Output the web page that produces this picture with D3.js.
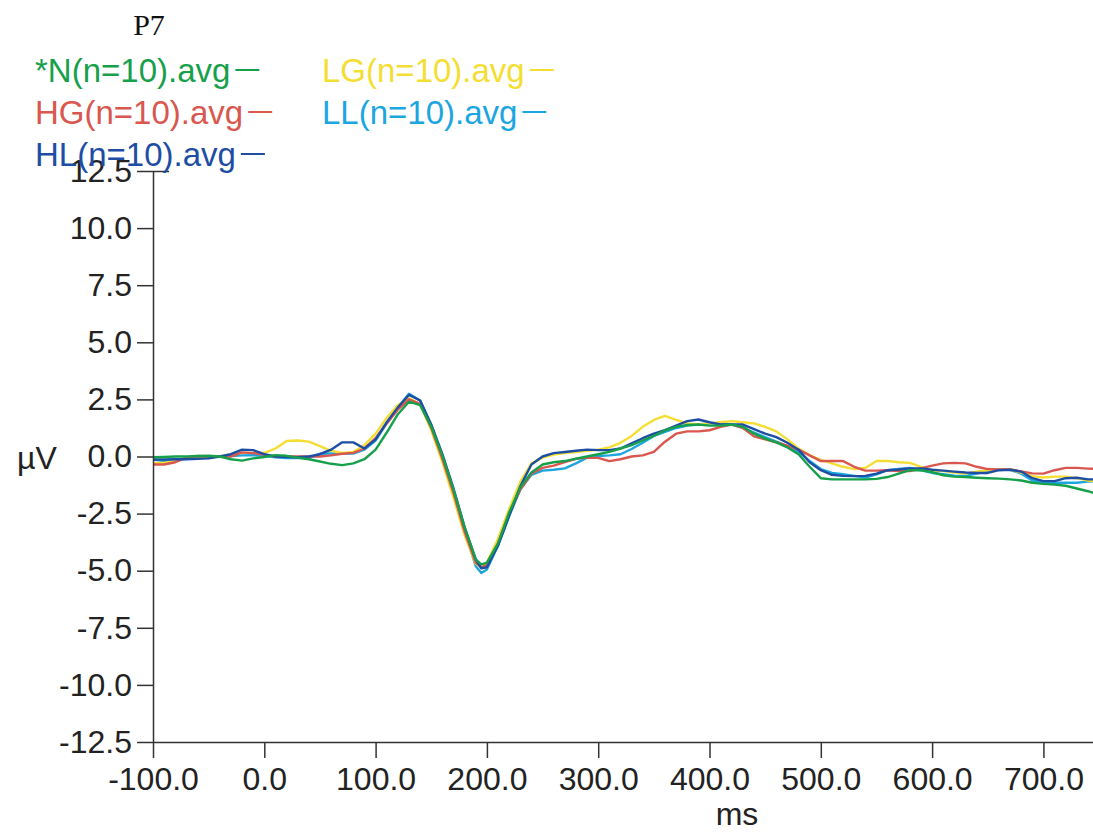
<!DOCTYPE html>
<html>
<head>
<meta charset="utf-8">
<script src="https://cdn.jsdelivr.net/npm/d3@7"></script>
<style>
    body { margin: 0; background: #fff; }
    svg { display: block; }
</style>
</head>
<body>
<div id="chart"></div>
<script>
// Time points (ms)
const times = [
    -100, -90, -80, -70, -60, -50, -40, -30, -20, -10,
    0, 10, 20, 30, 40, 50, 60, 70, 80, 90,
    100, 110, 120, 130, 140, 150, 160, 170, 180, 190,
    195, 200, 210, 220, 230, 240, 250, 260, 270, 280,
    290, 300, 310, 320, 330, 340, 350, 360, 370, 380,
    390, 400, 410, 420, 430, 440, 450, 460, 470, 480,
    490, 500, 510, 520, 530, 540, 550, 560, 570, 580,
    590, 600, 610, 620, 630, 640, 650, 660, 670, 680,
    690, 700, 710, 720, 730, 740, 745
];

// Series values (µV)
const valuesN = [
    -0.03, -0.02, 0.0, 0.0, 0.02, 0.03, 0.0, -0.12, -0.18, -0.08,
    -0.02, 0.06, 0.03, -0.05, -0.12, -0.22, -0.32, -0.38, -0.3, -0.12,
    0.3, 1.05, 1.85, 2.4, 2.25, 1.3, 0.05, -1.45, -3.1, -4.5,
    -4.72, -4.65, -3.8, -2.45, -1.35, -0.7, -0.35, -0.25, -0.2, -0.1,
    0.0, 0.1, 0.2, 0.35, 0.5, 0.7, 0.9, 1.15, 1.3, 1.38,
    1.4, 1.35, 1.35, 1.4, 1.3, 1.0, 0.78, 0.62, 0.4, 0.1,
    -0.45, -0.95, -1.0, -1.0, -1.0, -1.0, -0.98, -0.9, -0.75, -0.6,
    -0.6, -0.68, -0.82, -0.88, -0.9, -0.93, -0.95, -0.97, -1.0, -1.05,
    -1.15, -1.2, -1.23, -1.28, -1.4, -1.52, -1.59
];
const valuesHG = [
    -0.35, -0.35, -0.25, -0.05, 0.02, 0.0, 0.0, 0.0, 0.18, 0.15,
    0.08, 0.0, 0.0, 0.0, 0.0, 0.0, 0.05, 0.12, 0.16, 0.35,
    0.8, 1.45, 2.05, 2.5, 2.3, 1.25, -0.1, -1.6, -3.3, -4.65,
    -4.85, -4.75, -3.8, -2.5, -1.45, -0.75, -0.5, -0.4, -0.25, -0.1,
    -0.05, -0.06, -0.2, -0.12, 0.0, 0.05, 0.2, 0.65, 1.0, 1.1,
    1.1, 1.15, 1.3, 1.4, 1.25, 0.88, 0.75, 0.62, 0.47, 0.3,
    0.05, -0.2, -0.2, -0.2, -0.45, -0.62, -0.62, -0.6, -0.64, -0.64,
    -0.52, -0.4, -0.3, -0.28, -0.3, -0.45, -0.55, -0.57, -0.57, -0.65,
    -0.74, -0.75, -0.6, -0.5, -0.5, -0.53, -0.54
];
const valuesHL = [
    -0.13, -0.13, -0.12, -0.12, -0.1, -0.08, 0.0, 0.1, 0.3, 0.28,
    0.1, 0.0, -0.02, -0.03, 0.0, 0.1, 0.3, 0.62, 0.62, 0.35,
    0.75, 1.5, 2.15, 2.7, 2.45, 1.4, 0.1, -1.4, -3.1, -4.5,
    -4.9, -4.85, -3.9, -2.6, -1.3, -0.35, 0.0, 0.15, 0.2, 0.25,
    0.3, 0.28, 0.28, 0.35, 0.58, 0.8, 1.0, 1.15, 1.35, 1.55,
    1.62, 1.5, 1.4, 1.4, 1.4, 1.2, 1.0, 0.85, 0.6, 0.3,
    -0.25, -0.6, -0.8, -0.85, -0.86, -0.85, -0.75, -0.6, -0.57, -0.52,
    -0.52, -0.58, -0.62, -0.66, -0.7, -0.72, -0.72, -0.6, -0.58, -0.66,
    -0.95, -1.08, -1.08, -0.95, -0.93, -1.0, -1.0
];
const valuesLG = [
    -0.28, -0.28, -0.2, -0.07, -0.02, 0.0, 0.0, 0.1, 0.16, 0.16,
    0.16, 0.35, 0.68, 0.7, 0.65, 0.45, 0.25, 0.16, 0.2, 0.5,
    1.0, 1.7, 2.25, 2.55, 2.3, 1.15, -0.25, -1.8, -3.45, -4.7,
    -4.85, -4.65, -3.6, -2.3, -1.1, -0.3, -0.05, 0.08, 0.15, 0.2,
    0.25, 0.3, 0.4, 0.6, 0.9, 1.3, 1.6, 1.78, 1.6, 1.45,
    1.4, 1.45, 1.5, 1.55, 1.5, 1.45, 1.3, 1.1, 0.75, 0.35,
    0.05, -0.15, -0.3, -0.45, -0.55, -0.5, -0.2, -0.2, -0.25, -0.28,
    -0.45, -0.62, -0.64, -0.7, -0.75, -0.66, -0.6, -0.57, -0.57, -0.7,
    -0.86, -0.92, -0.88, -0.88, -0.95, -1.05, -1.08
];
const valuesLL = [
    -0.13, -0.2, -0.15, -0.1, -0.05, -0.02, 0.0, 0.02, 0.05, 0.06,
    0.03, -0.03, -0.07, -0.07, -0.07, 0.12, 0.13, 0.13, 0.13, 0.3,
    0.7, 1.45, 2.15, 2.75, 2.45, 1.35, -0.05, -1.55, -3.3, -4.8,
    -5.1, -4.95, -3.9, -2.6, -1.45, -0.8, -0.62, -0.58, -0.52, -0.3,
    -0.05, 0.02, 0.05, 0.1, 0.33, 0.6, 0.9, 1.08, 1.25, 1.35,
    1.4, 1.45, 1.45, 1.4, 1.25, 1.05, 0.85, 0.65, 0.45, 0.2,
    -0.2, -0.55, -0.72, -0.77, -0.85, -0.92, -0.78, -0.6, -0.55, -0.5,
    -0.6, -0.72, -0.78, -0.84, -0.85, -0.75, -0.65, -0.58, -0.58, -0.75,
    -1.05, -1.15, -1.15, -1.15, -1.15, -1.1, -1.08
];

// Labels and ticks
const seriesLabels = ['*N(n=10).avg', 'HG(n=10).avg', 'HL(n=10).avg', 'LG(n=10).avg', 'LL(n=10).avg'];
const xTicks = [-100, 0, 100, 200, 300, 400, 500, 600, 700];
const yTicks = [-12.5, -10, -7.5, -5, -2.5, 0, 2.5, 5, 7.5, 10, 12.5];
const chartTitle = 'P7';
const xLabel = 'ms';
const yLabel = 'µV';

// Constants
const CHART = {
    width: 1093,
    height: 832,
    left: 153,
    right: 1093.5,
    top: 171,
    bottom: 742
};
const FONT = '"Liberation Sans", Arial, sans-serif';
const COLORS = ['#17a04b', '#d9574f', '#1d4ea3', '#f4de34', '#1ca6df'];
// draw order: cyan, yellow, red, blue, green on top
const DRAW_ORDER = [4, 3, 1, 2, 0];

const allValues = [valuesN, valuesHG, valuesHL, valuesLG, valuesLL];

const svg = d3.select('#chart')
    .append('svg')
    .attr('width', CHART.width)
    .attr('height', CHART.height);

const x = d3.scaleLinear().domain([-100, 745]).range([CHART.left, CHART.right]);
const y = d3.scaleLinear().domain([-12.5, 12.5]).range([CHART.bottom, CHART.top]);

/**
 * Draws axes
 */
function drawAxes() {
    const yAxis = svg.append('g')
        .attr('transform', `translate(${CHART.left},0)`)
        .call(d3.axisLeft(y).tickValues(yTicks).tickSize(16).tickSizeOuter(0).tickPadding(5)
            .tickFormat(d => d.toFixed(1)));

    // top tick crosses the axis
    yAxis.selectAll('.tick').filter(d => d === 12.5).select('line').attr('x1', 16);

    const xAxis = svg.append('g')
        .attr('transform', `translate(0,${CHART.bottom})`)
        .call(d3.axisBottom(x).tickValues(xTicks).tickSize(16).tickSizeOuter(0).tickPadding(9)
            .tickFormat(d => d.toFixed(1)));

    [xAxis, yAxis].forEach(g => {
        g.attr('font-family', FONT).attr('font-size', 32);
        g.selectAll('text').attr('fill', '#222');
        g.selectAll('line, path').attr('stroke', '#333').attr('stroke-width', 1.5);
    });

    svg.append('text')
        .attr('x', 737)
        .attr('y', 825)
        .attr('text-anchor', 'middle')
        .attr('font-family', FONT)
        .attr('font-size', 32)
        .attr('fill', '#222')
        .text(xLabel);

    svg.append('text')
        .attr('x', 17)
        .attr('y', 469)
        .attr('font-family', FONT)
        .attr('font-size', 32)
        .attr('fill', '#222')
        .text(yLabel);
}

/**
 * Draws the series lines
 */
function drawLines() {
    const line = d3.line()
        .x((d, i) => x(times[i]))
        .y(d => y(d));

    DRAW_ORDER.forEach(idx => {
        svg.append('path')
            .datum(allValues[idx])
            .attr('fill', 'none')
            .attr('stroke', COLORS[idx])
            .attr('stroke-width', 2.4)
            .attr('stroke-linejoin', 'round')
            .attr('d', line);
    });
}

/**
 * Draws title and legend
 */
function drawLegend() {
    svg.append('text')
        .attr('x', 149)
        .attr('y', 35)
        .attr('text-anchor', 'middle')
        .attr('font-family', '"Liberation Serif", "Times New Roman", serif')
        .attr('font-size', 30)
        .attr('fill', '#111')
        .text(chartTitle);

    const positions = [[35, 82], [35, 124], [35, 166], [322, 82], [322, 124]];

    seriesLabels.forEach((label, i) => {
        const [lx, ly] = positions[i];
        const text = svg.append('text')
            .attr('x', lx)
            .attr('y', ly)
            .attr('font-family', FONT)
            .attr('font-size', 33)
            .attr('fill', COLORS[i])
            .text(label);
        const w = text.node().getComputedTextLength();
        svg.append('line')
            .attr('x1', lx + w + 5)
            .attr('x2', lx + w + 29)
            .attr('y1', ly - 12)
            .attr('y2', ly - 12)
            .attr('stroke', COLORS[i])
            .attr('stroke-width', 2);
    });
}

drawLines();
drawAxes();
drawLegend();
</script>
</body>
</html>
